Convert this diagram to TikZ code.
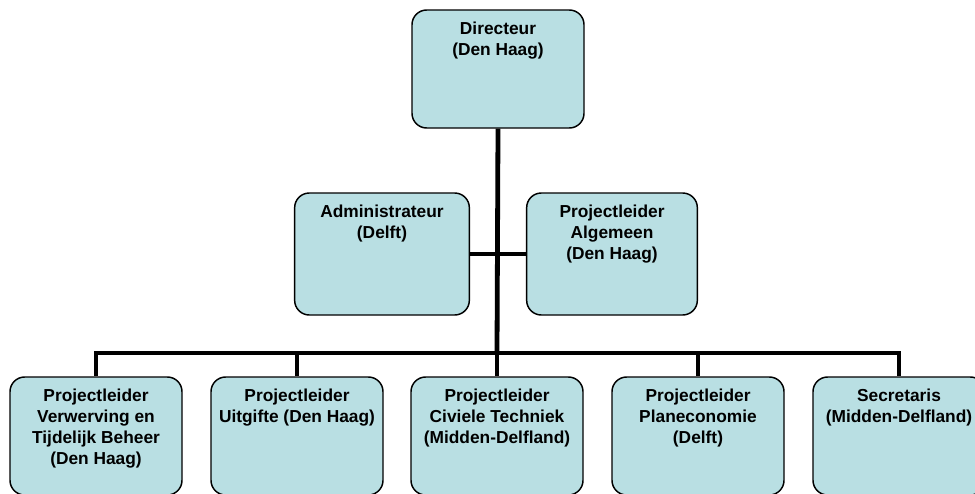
\documentclass[tikz,border=0pt]{standalone}
\usepackage{fontspec}
\setmainfont{Liberation Sans}
\definecolor{boxfill}{RGB}{185,223,227}
\begin{document}
\begin{tikzpicture}[x=0.75pt, y=-0.75pt, font=\fontsize{13}{15.75}\selectfont\bfseries,
  box/.style={draw, line width=1.1pt, rounded corners=11pt, fill=boxfill,
    minimum width=129pt, minimum height=88.5pt, inner sep=0pt},
  txt/.style={anchor=north, yshift=-9pt, align=center, inner sep=0pt},
  conn/.style={line width=3.6pt}]
  \clip (0,0) rectangle (975,493);
  % bovenste laag
  \node[box] (dir) at (498,69) [label={[txt]north:Directeur\\(Den Haag)}] {};
  % staf
  \node[box, minimum width=131pt, minimum height=91.5pt] (adm) at (382,254)
    [label={[txt]north:Administrateur\\(Delft)}] {};
  \node[box, minimum width=128pt, minimum height=91.5pt] (alg) at (612,254)
    [label={[txt]north:Projectleider\\Algemeen\\(Den Haag)}] {};
  % projectleiders
  \node[box] (pve) at (96,436)
    [label={[txt]north:Projectleider\\Verwerving en\\Tijdelijk Beheer\\(Den Haag)}] {};
  \node[box] (pui) at (297,436)
    [label={[txt]north:Projectleider\\Uitgifte (Den Haag)}] {};
  \node[box] (pct) at (497,436)
    [label={[txt]north:Projectleider\\Civiele Techniek\\(Midden-Delfland)}] {};
  \node[box] (ppe) at (698,436)
    [label={[txt]north:Projectleider\\Planeconomie\\(Delft)}] {};
  \node[box] (sec) at (899,436)
    [label={[txt]north:Secretaris\\(Midden-Delfland)}] {};
  % lijnen
  \coordinate (bus) at (497,353);
  \draw[conn] (dir.south) -- (bus);
  \draw[conn] (adm.east) -- (alg.west);
  \foreach \n in {pve,pui,pct,ppe,sec}
    \draw[conn] (bus) -| (\n.north);
\end{tikzpicture}
\end{document}
